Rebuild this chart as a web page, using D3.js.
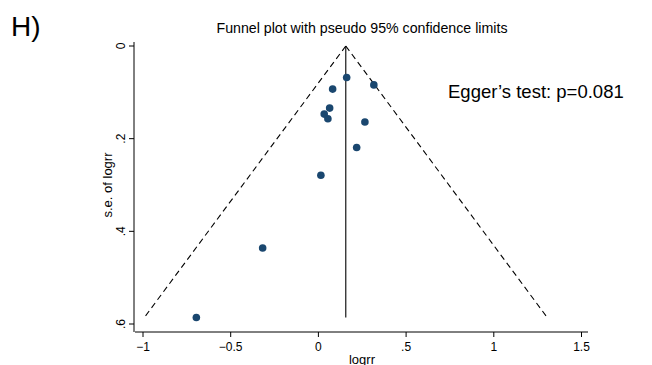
<!DOCTYPE html>
<html>
<head>
<meta charset="utf-8">
<script src="https://cdn.jsdelivr.net/npm/d3@7"></script>
<style>
  body { margin: 0; background: #fff; }
  text { font-family: "Liberation Sans", Arial, sans-serif; }
</style>
</head>
<body>
<script>
let width = 652
let height = 365

// study estimates
const logrr = [0.164, 0.319, 0.084, 0.067, 0.036, 0.057, 0.268, 0.221, 0.017, -0.315, -0.693]
const se = [0.068, 0.084, 0.093, 0.134, 0.147, 0.157, 0.164, 0.219, 0.279, 0.436, 0.586]
const pooled = 0.159
const xTicks = [-1, -0.5, 0, 0.5, 1, 1.5]
const yTicks = [0, 0.2, 0.4, 0.6]

const svg = d3.select("body")
    .append('svg')
    .attr('width', width)
    .attr('height', height)

const x = d3.scaleLinear().domain([-1, 1.5]).range([142.5, 581])
const y = d3.scaleLinear().domain([0, 0.6]).range([46, 324])

const fmt = d => d === 0 ? '0' : d3.format('.1f')(d).replace(/^(-?)0\./, '$1.').replace('.0', '')

// x axis
const xAxis = svg.append('g')
    .attr('transform', 'translate(0,332)')
    .call(d3.axisBottom(x).tickValues(xTicks).tickSize(5).tickSizeOuter(0).tickFormat(fmt))
xAxis.select('.domain').attr('d', 'M135,0H588')
xAxis.selectAll('text').attr('font-size', 12).attr('dy', '0.95em').attr('font-family', '"Liberation Sans", Arial, sans-serif')

// y axis
const yAxis = svg.append('g')
    .attr('transform', 'translate(134,0)')
    .call(d3.axisLeft(y).tickValues(yTicks).tickSize(5).tickSizeOuter(0).tickFormat(fmt))
yAxis.select('.domain').attr('d', 'M0,42V332')
yAxis.selectAll('text')
    .attr('font-size', 12)
    .attr('font-family', '"Liberation Sans", Arial, sans-serif')
    .attr('x', null).attr('dy', null)
    .attr('text-anchor', 'middle')
    .attr('transform', d => 'translate(-9,' + y(d) + ') rotate(-90)')
    .attr('y', 0)
yAxis.selectAll('.tick').attr('transform', function(d) {
    d3.select(this).select('line').attr('transform', 'translate(0,' + y(d) + ')')
    return null
})

// pseudo 95% limits
const seMax = d3.max(se)
const limits = [
    [[pooled, 0], [pooled - 1.96 * seMax, seMax]],
    [[pooled, 0], [pooled + 1.96 * seMax, seMax]]
]
const line = d3.line().x(d => x(d[0])).y(d => y(d[1]))
svg.selectAll('.limit')
    .data(limits)
    .enter()
    .append('path')
        .attr('class', 'limit')
        .attr('d', line)
        .attr('fill', 'none')
        .attr('stroke', 'black')
        .attr('stroke-width', 1.1)
        .attr('stroke-dasharray', '6,4')

// pooled estimate
svg.append('path')
    .attr('d', line([[pooled, 0], [pooled, seMax]]))
    .attr('stroke', 'black')
    .attr('stroke-width', 1.1)

// studies
svg.selectAll('.dot')
    .data(logrr)
    .enter()
    .append('circle')
        .attr('cx', d => x(d))
        .attr('cy', (d, i) => y(se[i]))
        .attr('r', 3.8)
        .attr('fill', '#1a476f')

svg.append('text')
    .attr('x', 362).attr('y', 33)
    .attr('text-anchor', 'middle')
    .style('font-size', '14.2px')
    .text('Funnel plot with pseudo 95% confidence limits')

svg.append('text')
    .attr('x', 362).attr('y', 364)
    .attr('text-anchor', 'middle')
    .style('font-size', '13px')
    .text('logrr')

svg.append('text')
    .attr('transform', 'translate(112,185) rotate(-90)')
    .attr('text-anchor', 'middle')
    .style('font-size', '13px')
    .text('s.e. of logrr')

svg.append('text')
    .attr('x', 448).attr('y', 98)
    .style('font-size', '18.5px')
    .text('Egger’s test: p=0.081')

svg.append('text')
    .attr('x', 11).attr('y', 36)
    .style('font-size', '28px')
    .text('H)')
</script>
</body>
</html>
